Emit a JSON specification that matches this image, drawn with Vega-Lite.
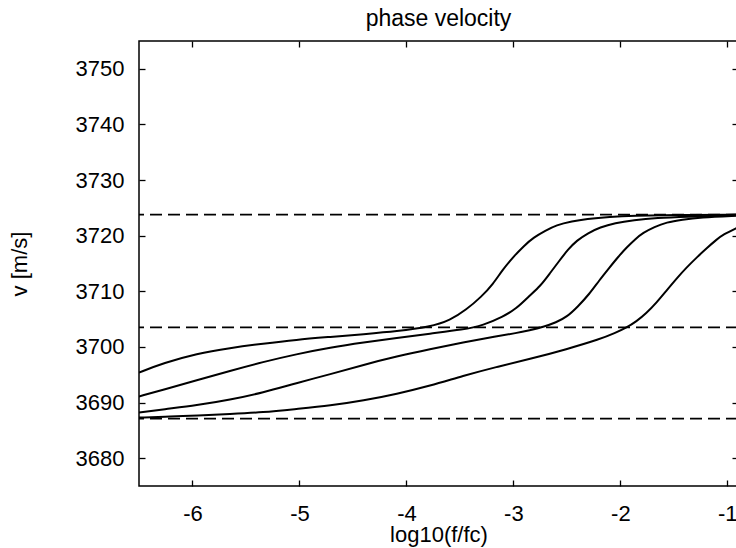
{
  "$schema": "https://vega.github.io/schema/vega-lite/v6.json",
  "autosize": "none",
  "width": 599,
  "height": 445,
  "padding": {"left": 139, "top": 41, "right": 0, "bottom": 62},
  "background": "white",
  "title": {"text": "phase velocity", "fontSize": 23, "fontWeight": "normal", "font": "Liberation Sans", "color": "black", "offset": 9, "anchor": "middle"},
  "config": {
    "view": {"stroke": "black", "strokeWidth": 1.5},
    "axis": {"labelFont": "Liberation Sans", "titleFont": "Liberation Sans", "labelFontSize": 22, "titleFontSize": 22, "titleFontWeight": "normal", "labelColor": "black", "titleColor": "black", "domain": false, "grid": false, "tickColor": "black", "tickWidth": 1.3, "tickSize": -6}
  },
  "datasets": {
    "curves": [
      {"s": "A", "x": -6.5, "v": 3695.4}, {"s": "A", "x": -6.27, "v": 3697.1}, {"s": "A", "x": -5.96, "v": 3698.8}, {"s": "A", "x": -5.65, "v": 3699.8}, {"s": "A", "x": -5.34, "v": 3700.6}, {"s": "A", "x": -5.03, "v": 3701.3}, {"s": "A", "x": -4.71, "v": 3701.8}, {"s": "A", "x": -4.4, "v": 3702.3}, {"s": "A", "x": -4.09, "v": 3702.8}, {"s": "A", "x": -3.78, "v": 3703.6}, {"s": "A", "x": -3.59, "v": 3704.8}, {"s": "A", "x": -3.44, "v": 3706.7}, {"s": "A", "x": -3.3, "v": 3709.0}, {"s": "A", "x": -3.19, "v": 3711.3}, {"s": "A", "x": -3.1, "v": 3713.9}, {"s": "A", "x": -3.0, "v": 3716.2}, {"s": "A", "x": -2.9, "v": 3718.2}, {"s": "A", "x": -2.81, "v": 3719.7}, {"s": "A", "x": -2.7, "v": 3720.9}, {"s": "A", "x": -2.6, "v": 3721.9}, {"s": "A", "x": -2.45, "v": 3722.6}, {"s": "A", "x": -2.32, "v": 3723.0}, {"s": "A", "x": -2.1, "v": 3723.4}, {"s": "A", "x": -1.88, "v": 3723.6}, {"s": "A", "x": -1.5, "v": 3723.7}, {"s": "A", "x": -0.9, "v": 3723.8},
      {"s": "B", "x": -6.5, "v": 3691.1}, {"s": "B", "x": -6.27, "v": 3692.3}, {"s": "B", "x": -5.96, "v": 3694.0}, {"s": "B", "x": -5.65, "v": 3695.7}, {"s": "B", "x": -5.34, "v": 3697.3}, {"s": "B", "x": -5.03, "v": 3698.7}, {"s": "B", "x": -4.71, "v": 3699.9}, {"s": "B", "x": -4.4, "v": 3700.8}, {"s": "B", "x": -4.09, "v": 3701.6}, {"s": "B", "x": -3.78, "v": 3702.4}, {"s": "B", "x": -3.47, "v": 3703.1}, {"s": "B", "x": -3.28, "v": 3703.9}, {"s": "B", "x": -3.1, "v": 3705.4}, {"s": "B", "x": -2.97, "v": 3706.9}, {"s": "B", "x": -2.85, "v": 3709.2}, {"s": "B", "x": -2.75, "v": 3710.9}, {"s": "B", "x": -2.66, "v": 3713.2}, {"s": "B", "x": -2.57, "v": 3715.5}, {"s": "B", "x": -2.49, "v": 3717.5}, {"s": "B", "x": -2.41, "v": 3719.1}, {"s": "B", "x": -2.3, "v": 3720.5}, {"s": "B", "x": -2.19, "v": 3721.5}, {"s": "B", "x": -2.05, "v": 3722.3}, {"s": "B", "x": -1.88, "v": 3722.8}, {"s": "B", "x": -1.65, "v": 3723.2}, {"s": "B", "x": -1.41, "v": 3723.4}, {"s": "B", "x": -0.9, "v": 3723.7},
      {"s": "C", "x": -6.5, "v": 3688.2}, {"s": "C", "x": -6.27, "v": 3688.8}, {"s": "C", "x": -5.96, "v": 3689.5}, {"s": "C", "x": -5.65, "v": 3690.5}, {"s": "C", "x": -5.34, "v": 3691.8}, {"s": "C", "x": -5.03, "v": 3693.5}, {"s": "C", "x": -4.71, "v": 3695.1}, {"s": "C", "x": -4.4, "v": 3696.8}, {"s": "C", "x": -4.09, "v": 3698.3}, {"s": "C", "x": -3.78, "v": 3699.6}, {"s": "C", "x": -3.47, "v": 3700.8}, {"s": "C", "x": -3.16, "v": 3701.9}, {"s": "C", "x": -2.97, "v": 3702.5}, {"s": "C", "x": -2.85, "v": 3703.0}, {"s": "C", "x": -2.72, "v": 3703.6}, {"s": "C", "x": -2.6, "v": 3704.4}, {"s": "C", "x": -2.5, "v": 3705.4}, {"s": "C", "x": -2.4, "v": 3707.2}, {"s": "C", "x": -2.29, "v": 3709.5}, {"s": "C", "x": -2.2, "v": 3711.9}, {"s": "C", "x": -2.1, "v": 3714.3}, {"s": "C", "x": -2.02, "v": 3716.2}, {"s": "C", "x": -1.94, "v": 3717.9}, {"s": "C", "x": -1.86, "v": 3719.4}, {"s": "C", "x": -1.79, "v": 3720.5}, {"s": "C", "x": -1.68, "v": 3721.6}, {"s": "C", "x": -1.57, "v": 3722.4}, {"s": "C", "x": -1.42, "v": 3722.9}, {"s": "C", "x": -1.26, "v": 3723.3}, {"s": "C", "x": -0.9, "v": 3723.6},
      {"s": "D", "x": -6.5, "v": 3687.3}, {"s": "D", "x": -6.2, "v": 3687.5}, {"s": "D", "x": -5.96, "v": 3687.65}, {"s": "D", "x": -5.65, "v": 3687.95}, {"s": "D", "x": -5.34, "v": 3688.25}, {"s": "D", "x": -5.03, "v": 3688.85}, {"s": "D", "x": -4.71, "v": 3689.45}, {"s": "D", "x": -4.4, "v": 3690.35}, {"s": "D", "x": -4.09, "v": 3691.55}, {"s": "D", "x": -3.78, "v": 3693.0}, {"s": "D", "x": -3.47, "v": 3694.8}, {"s": "D", "x": -3.16, "v": 3696.4}, {"s": "D", "x": -2.85, "v": 3697.8}, {"s": "D", "x": -2.5, "v": 3699.6}, {"s": "D", "x": -2.19, "v": 3701.4}, {"s": "D", "x": -2.05, "v": 3702.5}, {"s": "D", "x": -1.94, "v": 3703.5}, {"s": "D", "x": -1.85, "v": 3704.6}, {"s": "D", "x": -1.76, "v": 3706.0}, {"s": "D", "x": -1.66, "v": 3708.0}, {"s": "D", "x": -1.57, "v": 3710.1}, {"s": "D", "x": -1.47, "v": 3712.4}, {"s": "D", "x": -1.38, "v": 3714.3}, {"s": "D", "x": -1.28, "v": 3716.2}, {"s": "D", "x": -1.19, "v": 3717.8}, {"s": "D", "x": -1.1, "v": 3719.3}, {"s": "D", "x": -1.04, "v": 3720.2}, {"s": "D", "x": -0.9, "v": 3721.5}
    ],
    "dash": [{"v": 3723.8}, {"v": 3703.5}, {"v": 3687.1}]
  },
  "layer": [
    {
      "data": {"name": "dash"},
      "mark": {"type": "rule", "color": "black", "strokeWidth": 1.8, "strokeDash": [12, 6]},
      "encoding": {
        "y": {"field": "v", "type": "quantitative", "axis": null}
      }
    },
    {
      "data": {"name": "curves"},
      "mark": {"type": "line", "color": "black", "strokeWidth": 2, "interpolate": "basis", "clip": true},
      "encoding": {
        "x": {"field": "x", "type": "quantitative", "scale": {"domain": [-6.5, -0.9], "nice": false, "zero": false}, "axis": {"values": [-6, -5, -4, -3, -2, -1], "labelExpr": "'' + datum.value", "title": "log10(f/fc)", "labelPadding": 23, "titlePadding": 0}},
        "y": {"field": "v", "type": "quantitative", "scale": {"domain": [3675, 3755], "nice": false, "zero": false}, "axis": {"values": [3680, 3690, 3700, 3710, 3720, 3730, 3740, 3750], "format": "d", "title": "v [m/s]", "labelPadding": 21, "titlePadding": 44}},
        "detail": {"field": "s"}
      }
    },
    {
      "data": {"name": "curves"},
      "mark": {"type": "point", "opacity": 0},
      "encoding": {
        "x": {"field": "x", "type": "quantitative", "axis": {"orient": "top", "values": [-6, -5, -4, -3, -2, -1], "labels": false, "title": null}},
        "y": {"field": "v", "type": "quantitative", "axis": {"orient": "right", "values": [3680, 3690, 3700, 3710, 3720, 3730, 3740, 3750], "labels": false, "title": null}}
      }
    }
  ],
  "resolve": {"axis": {"x": "independent", "y": "independent"}}
}
